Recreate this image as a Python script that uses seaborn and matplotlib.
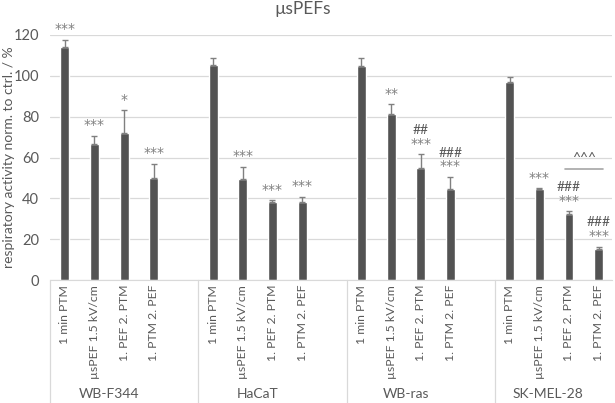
import matplotlib
matplotlib.use("Agg")
import matplotlib.pyplot as plt
import seaborn as sns
import pandas as pd

# values
groups = ["WB-F344", "HaCaT", "WB-ras", "SK-MEL-28"]
treatments = ["1 min PTM", "µsPEF 1.5 kV/cm", "1. PEF 2. PTM", "1. PTM 2. PEF"]

wb_f344 = [114.1, 66.5, 72.2, 50.0]
hacat = [105.1, 49.5, 38.0, 38.1]
wb_ras = [104.6, 81.2, 54.9, 44.5]
sk_mel_28 = [97.0, 44.5, 32.4, 15.2]

wb_f344_err = [3.6, 4.1, 10.9, 7.0]
hacat_err = [3.6, 5.9, 1.1, 2.6]
wb_ras_err = [4.1, 4.9, 6.6, 6.0]
sk_mel_28_err = [2.4, 0.6, 1.3, 1.1]

stars = [["***", "***", "*", "***"],
         ["", "***", "***", "***"],
         ["", "**", "***", "***"],
         ["", "***", "***", "***"]]
hashes = [["", "", "", ""],
          ["", "", "", ""],
          ["", "", "##", "###"],
          ["", "", "###", "###"]]

values = [wb_f344, hacat, wb_ras, sk_mel_28]
errors = [wb_f344_err, hacat_err, wb_ras_err, sk_mel_28_err]

rows = []
for g, name in enumerate(groups):
    for t, treat in enumerate(treatments):
        rows.append({"group": name, "treatment": treat, "pos": g * 5 + t,
                     "value": values[g][t], "err": errors[g][t],
                     "stars": stars[g][t], "hashes": hashes[g][t]})
df = pd.DataFrame(rows)

sns.set_style("white")
plt.rcParams["font.family"] = ["Lato", "DejaVu Sans"]

text_col = "#595959"
grid_col = "#d9d9d9"

fig = plt.figure(figsize=(6.15, 4.03), dpi=100)
ax = fig.add_axes([50 / 615, 1 - 280 / 403, 562 / 615, 245 / 403])

sns.barplot(data=df, x="pos", y="value", native_scale=True, width=0.3,
            color="#535353", saturation=1, errorbar=None, ax=ax, zorder=2)
ax.errorbar(df["pos"], df["value"], yerr=[[0] * len(df), df["err"]], fmt="none",
            ecolor="#808080", elinewidth=1, capsize=2.5, capthick=1, zorder=3)

ax.set_xlim(-0.5, 18.45)
ax.set_ylim(0, 120)
ax.set_yticks(range(0, 121, 20))
ax.yaxis.grid(True, color=grid_col, lw=0.9)
ax.set_axisbelow(True)
for s in ["top", "right", "left"]:
    ax.spines[s].set_visible(False)
ax.spines["bottom"].set_color(grid_col)
ax.tick_params(axis="y", length=0, pad=8, labelsize=10.5, labelcolor=text_col)

ax.set_xticks(df["pos"])
ax.set_xticklabels(df["treatment"], rotation=90)
ax.tick_params(axis="x", length=0, pad=3.5, labelsize=8.8, labelcolor=text_col)
ax.set_xlabel("")
ax.set_ylabel("")

# group separators and group names below the axis
tr = ax.get_xaxis_transform()
for g, name in enumerate(groups):
    ax.plot([g * 5 - 0.5, g * 5 - 0.5], [0, -0.5], transform=tr, color=grid_col,
            lw=0.9, clip_on=False)
    cx = g * 5 + 1.5 if g < 3 else 16.3
    ax.text(cx, -0.465, name, transform=tr, ha="center", va="center",
            fontsize=10, color=text_col)

# significance marks
for _, r in df.iterrows():
    top = r["value"] + r["err"]
    if r["stars"]:
        ax.annotate(r["stars"], (r["pos"], top), xytext=(0, 7.5),
                    textcoords="offset points", ha="center", va="center",
                    fontsize=10, color="#7f7f7f", family="DejaVu Sans")
    if r["hashes"]:
        ax.annotate(r["hashes"], (r["pos"], top), xytext=(0, 17.5),
                    textcoords="offset points", ha="center", va="center",
                    fontsize=10, color=text_col)

# ^^^ bracket between the two combined treatments of SK-MEL-28
ax.plot([17 - 0.15, 18 + 0.15], [54.3, 54.3], color="#a6a6a6", lw=1.2, zorder=3)
ax.text(17.5, 59.6, "^^^", ha="center", va="center", fontsize=10, color=text_col)

fig.text(303 / 615, 1 - 9 / 403, "µsPEFs", ha="center", va="center",
         fontsize=12.5, color=text_col)
fig.text(9 / 615, 1 - 157 / 403, "respiratory activity norm. to ctrl. / %",
         rotation=90, ha="center", va="center", fontsize=10, color=text_col)

fig.savefig("out.png", dpi=100)
